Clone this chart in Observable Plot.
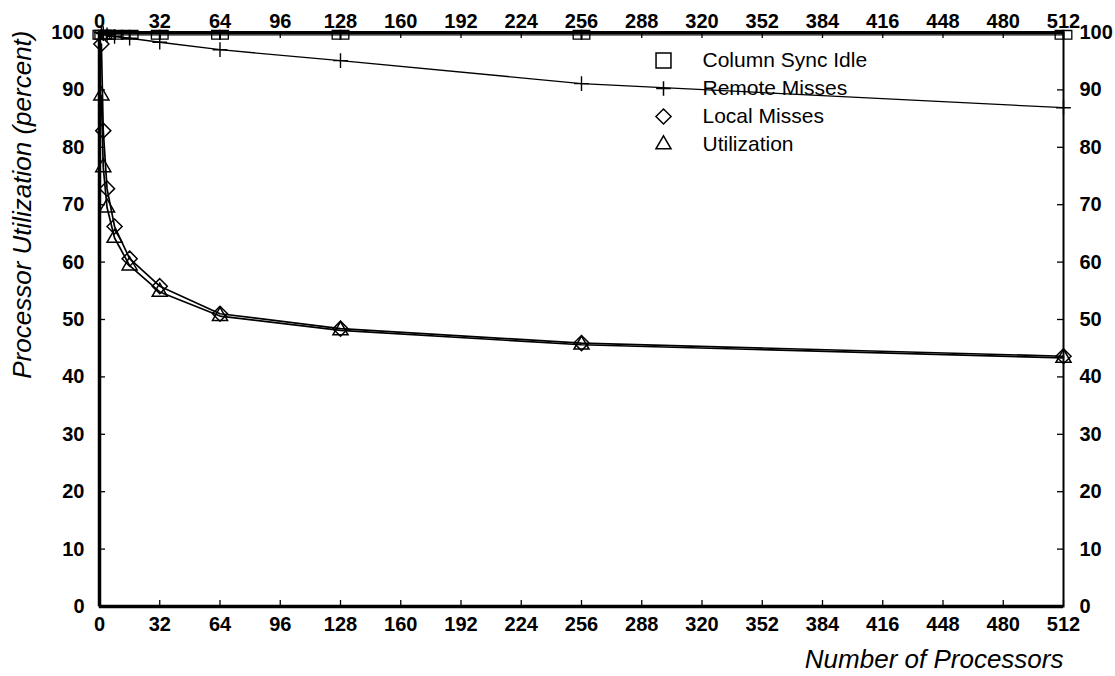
<!DOCTYPE html>
<html>
<head>
<meta charset="utf-8">
<script src="https://cdn.jsdelivr.net/npm/d3@7"></script>
<script src="https://cdn.jsdelivr.net/npm/@observablehq/plot@0.6"></script>
<style>
  html, body { margin: 0; padding: 0; background: #fff; }
  #chart svg { display: block; }
</style>
</head>
<body>
<div id="chart"></div>
<script>
const processors = [1, 2, 4, 8, 16, 32, 64, 128, 256, 512];
const columnSyncIdle = [99.6, 99.6, 99.6, 99.6, 99.6, 99.6, 99.6, 99.6, 99.6, 99.6];
const remoteMisses = [100, 99.8, 99.6, 99.3, 99.0, 98.3, 97.0, 95.1, 91.1, 86.9];
const localMisses = [98.0, 82.9, 72.8, 66.2, 60.6, 55.8, 51.0, 48.4, 45.9, 43.6];
const utilization = [89.0, 76.5, 69.5, 64.2, 59.4, 54.8, 50.6, 48.1, 45.6, 43.3];
const seriesNames = ["Column Sync Idle", "Remote Misses", "Local Misses", "Utilization"];
const xTicks = d3.range(0, 513, 32);
const yTicks = d3.range(0, 101, 10);

const W = 1115, H = 676;
const mL = 99, mR = 52, mT = 32, mB = 70;
const innerW = W - mL - mR, innerH = H - mT - mB;
const font = "'Liberation Sans', Arial, Helvetica, sans-serif";

const rows = (vals) => processors.map((p, i) => ({p, v: vals[i]}));
const symbols = ["square2", "plus", "diamond2", "triangle2"];
const symR = [9.5, 4.8, 6.8, 7.2];

const legendMarks = seriesNames.flatMap((name, i) => [
  Plot.dot([name], {frameAnchor: "top-left", dx: 564, dy: 28 + i * 28, symbol: symbols[i], r: symR[i], stroke: "#000", strokeWidth: 1.5, fill: "none"}),
  Plot.text([name], {frameAnchor: "top-left", dx: 603, dy: 28 + i * 28, text: d => d, textAnchor: "start", lineAnchor: "middle", fontSize: 21, fill: "#000"})
]);

const tickFont = {fontSize: 20, fontWeight: "bold"};

const chart = Plot.plot({
  width: W, height: H,
  marginLeft: mL, marginRight: mR, marginTop: mT, marginBottom: mB,
  style: {fontFamily: font, background: "#fff", color: "#000"},
  x: {domain: [0, 512]},
  y: {domain: [0, 100]},
  marks: [
    // axes labels
    Plot.axisX({anchor: "bottom", ticks: xTicks, tickSize: 0, tickPadding: 10, label: null, ...tickFont}),
    Plot.axisX({anchor: "top", ticks: xTicks, tickSize: 0, tickPadding: 5, label: null, ...tickFont}),
    Plot.axisY({anchor: "left", ticks: yTicks, tickSize: 0, tickPadding: 15, label: null, ...tickFont}),
    Plot.axisY({anchor: "right", ticks: yTicks, tickSize: 0, tickPadding: 16, label: null, ...tickFont}),
    // inward ticks
    Plot.ruleX(xTicks, {insetTop: innerH - 6, stroke: "#000", strokeWidth: 1.3}),
    Plot.ruleX(xTicks, {insetBottom: innerH - 6, stroke: "#000", strokeWidth: 1.3}),
    Plot.ruleY(yTicks, {insetRight: innerW - 6, stroke: "#000", strokeWidth: 1.3}),
    Plot.ruleY(yTicks, {insetLeft: innerW - 6, stroke: "#000", strokeWidth: 1.3}),
    // data lines
    Plot.line(rows(utilization), {x: "p", y: "v", stroke: "#000", strokeWidth: 1.7}),
    Plot.line(rows(localMisses), {x: "p", y: "v", stroke: "#000", strokeWidth: 1.7}),
    Plot.line(rows(remoteMisses), {x: "p", y: "v", stroke: "#000", strokeWidth: 1.3}),
    Plot.line(rows(columnSyncIdle), {x: "p", y: "v", stroke: "#000", strokeWidth: 1.3}),
    // markers
    Plot.dot(rows(utilization), {x: "p", y: "v", symbol: "triangle2", r: 7.2, stroke: "#000", strokeWidth: 1.5, fill: "none"}),
    Plot.dot(rows(localMisses), {x: "p", y: "v", symbol: "diamond2", r: 6.8, stroke: "#000", strokeWidth: 1.5, fill: "none"}),
    Plot.dot(rows(remoteMisses), {x: "p", y: "v", symbol: "plus", r: 4.8, stroke: "#000", strokeWidth: 1.4}),
    Plot.dot(rows(columnSyncIdle), {x: "p", y: "v", symbol: "square2", r: 5.5, dx: -4, stroke: "#000", strokeWidth: 1.3, fill: "none"}),
    Plot.dot(rows(columnSyncIdle), {x: "p", y: "v", symbol: "square2", r: 5.5, dx: 4, stroke: "#000", strokeWidth: 1.3, fill: "none"}),
    // frame
    Plot.frame({stroke: "#000", strokeWidth: 2}),
    Plot.ruleX([0], {stroke: "#000", strokeWidth: 3.5}),
    Plot.ruleY([0], {stroke: "#000", strokeWidth: 3.5}),
    Plot.ruleY([100], {stroke: "#000", strokeWidth: 3}),
    // legend
    ...legendMarks,
    // axis titles
    Plot.text(["Number of Processors"], {frameAnchor: "bottom-right", dy: 53, text: d => d, textAnchor: "end", lineAnchor: "middle", fontSize: 26, fontStyle: "italic", fill: "#000"}),
    Plot.text(["Processor Utilization (percent)"], {frameAnchor: "top-left", dx: -77, dy: -2, rotate: -90, text: d => d, textAnchor: "end", lineAnchor: "middle", fontSize: 26, fontStyle: "italic", fill: "#000"})
  ]
});
document.getElementById("chart").appendChild(chart);
</script>
</body>
</html>
